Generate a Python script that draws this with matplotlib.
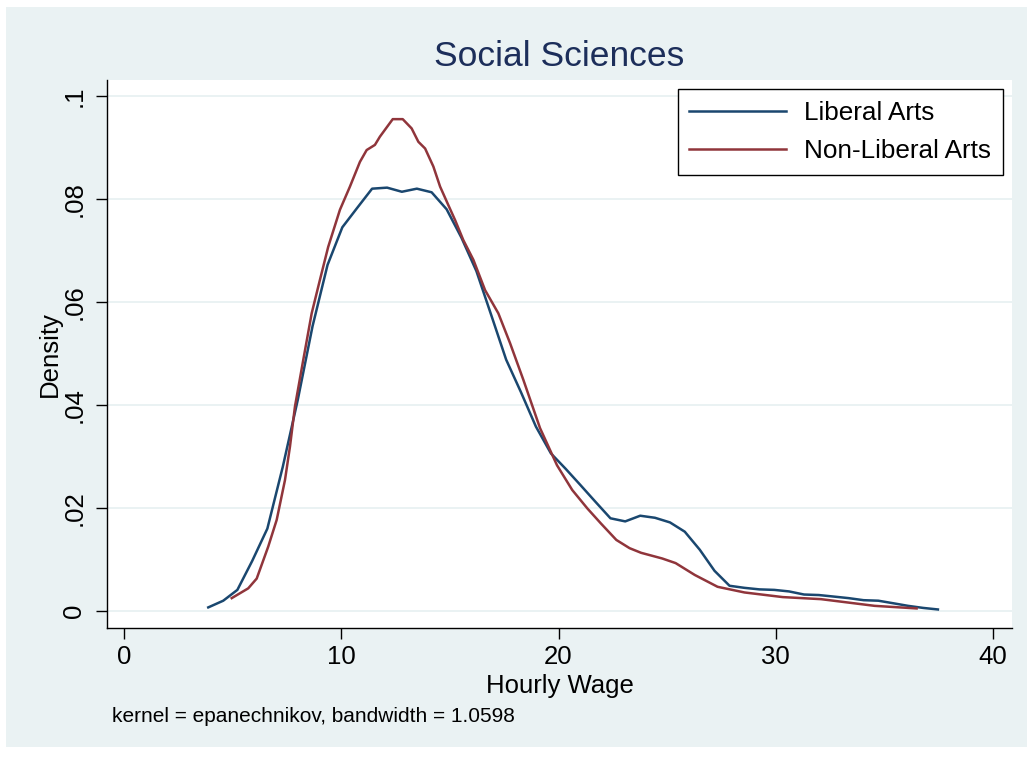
import matplotlib
matplotlib.use("Agg")
import matplotlib.pyplot as plt
from matplotlib.patches import Rectangle

plt.rcParams['font.family'] = ['Liberation Sans', 'DejaVu Sans']

# kernel density estimates
lib_x = [3.88, 4.57, 5.22, 5.90, 6.60, 7.31, 8.00, 8.68, 9.37, 10.05, 10.74, 11.42,
         12.11, 12.79, 13.48, 14.16, 14.85, 15.53, 16.22, 16.90, 17.59, 18.27, 18.96,
         19.65, 20.33, 21.02, 21.70, 22.39, 23.07, 23.76, 24.44, 25.13, 25.81, 26.50,
         27.18, 27.87, 28.55, 29.24, 29.93, 30.61, 31.30, 31.98, 32.67, 33.35, 34.04,
         34.72, 35.41, 36.09, 36.78, 37.46]
lib_y = [0.0007, 0.0020, 0.0041, 0.0097, 0.0160, 0.0280, 0.0410, 0.0553, 0.0672,
         0.0745, 0.0783, 0.0820, 0.0822, 0.0814, 0.0820, 0.0813, 0.0780, 0.0725,
         0.0660, 0.0575, 0.0488, 0.0425, 0.0358, 0.0306, 0.0276, 0.0244, 0.0212,
         0.0180, 0.0174, 0.0185, 0.0181, 0.0172, 0.0154, 0.0119, 0.0078, 0.0049,
         0.0045, 0.0042, 0.0041, 0.0038, 0.0032, 0.0031, 0.0028, 0.0025, 0.0021,
         0.0020, 0.0015, 0.0010, 0.0006, 0.0003]

nonlib_x = [4.96, 5.72, 6.11, 6.64, 7.03, 7.41, 7.64, 7.87, 8.25, 8.64, 9.02, 9.40,
            9.94, 10.40, 10.86, 11.17, 11.55, 11.78, 12.37, 12.83, 13.24, 13.55,
            13.86, 14.24, 14.55, 14.93, 15.24, 15.62, 16.08, 16.62, 17.23, 17.77,
            18.38, 19.15, 19.93, 20.63, 21.33, 21.95, 22.66, 23.27, 23.80, 24.77,
            25.39, 26.27, 27.32, 28.56, 30.32, 32.08, 34.55, 36.48]
nonlib_y = [0.0025, 0.0044, 0.0063, 0.0125, 0.0177, 0.0254, 0.0319, 0.0397, 0.0487,
            0.0578, 0.0643, 0.0707, 0.0779, 0.0824, 0.0872, 0.0895, 0.0905, 0.0921,
            0.0955, 0.0955, 0.0937, 0.0911, 0.0898, 0.0863, 0.0824, 0.0788, 0.0759,
            0.0720, 0.0682, 0.0623, 0.0578, 0.0520, 0.0449, 0.0355, 0.0283, 0.0235,
            0.0199, 0.0170, 0.0138, 0.0122, 0.0113, 0.0102, 0.0093, 0.0070, 0.0047,
            0.0036, 0.0027, 0.0023, 0.0010, 0.0005]

x_ticks = [0, 10, 20, 30, 40]
y_ticks = [0, 0.02, 0.04, 0.06, 0.08, 0.1]
y_labels = ['0', '.02', '.04', '.06', '.08', '.1']

bg = '#EAF2F3'
blue = '#1a476f'
red = '#90353b'

fig = plt.figure(figsize=(10.32, 7.57), dpi=100)
fig.patch.set_facecolor('white')
fig.patches.append(Rectangle((6/1032, 1-747/757), 1021/1032, 740/757,
                             transform=fig.transFigure, facecolor=bg,
                             edgecolor='none', zorder=-10))

ax = fig.add_axes([107/1032, 1-628/757, 905/1032, 548/757])
ax.set_facecolor('white')

for t in y_ticks:
    ax.axhline(t, color=bg, lw=1.4, zorder=1)

ax.plot(lib_x, lib_y, color=blue, lw=1.8, label='Liberal Arts', zorder=3)
ax.plot(nonlib_x, nonlib_y, color=red, lw=1.8, label='Non-Liberal Arts', zorder=3)

ax.set_xlim(-0.78, 40.87)
ax.set_ylim(-0.0033, 0.1031)
ax.set_xticks(x_ticks)
ax.set_yticks(y_ticks)
ax.set_yticklabels(y_labels, rotation=90, va='center')

for s in ['top', 'right']:
    ax.spines[s].set_visible(False)
for s in ['left', 'bottom']:
    ax.spines[s].set_linewidth(1.0)
    ax.spines[s].set_color('black')

ax.tick_params(axis='both', direction='out', length=8, width=1.0, labelsize=18.5, colors='black')
ax.tick_params(axis='x', pad=4)
ax.tick_params(axis='y', pad=7)

ax.set_xlabel('Hourly Wage', fontsize=18.5, labelpad=4)
ax.set_ylabel('Density', fontsize=18.5, labelpad=0)

fig.text(559.5/1032, 1-56/757, 'Social Sciences', ha='center', va='center',
         fontsize=25.5, color='#1c2e5a')

fig.text(112/1032, 1-716/757, 'kernel = epanechnikov, bandwidth = 1.0598',
         ha='left', va='center', fontsize=15)

leg = ax.legend(loc='upper right', bbox_to_anchor=(0.990, 0.9836), borderaxespad=0,
                fontsize=18.8, frameon=True, fancybox=False, handlelength=3.7,
                handletextpad=0.7, borderpad=0.45, labelspacing=0.55)
leg.get_frame().set_edgecolor('black')
leg.get_frame().set_linewidth(1.0)
leg.get_frame().set_facecolor('white')
leg.get_frame().set_alpha(1)

fig.savefig('out.png', dpi=100, facecolor=fig.get_facecolor())
